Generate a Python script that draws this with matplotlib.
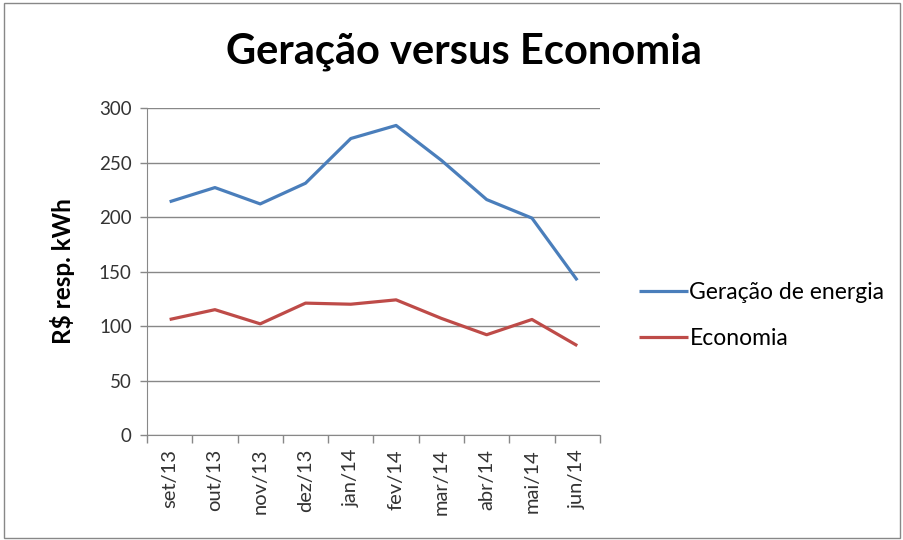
import matplotlib
matplotlib.use("Agg")
import matplotlib.pyplot as plt
from matplotlib.patches import Rectangle

categories = ["set/13", "out/13", "nov/13", "dez/13", "jan/14", "fev/14",
              "mar/14", "abr/14", "mai/14", "jun/14"]
geracao = [214, 227, 212, 231, 272, 284, 252, 216, 199, 142]
economia = [106, 115, 102, 121, 120, 124, 107, 92, 106, 82]
yticks = [0, 50, 100, 150, 200, 250, 300]

plt.rcParams['font.family'] = ['Lato', 'DejaVu Sans']

fig = plt.figure(figsize=(9.04, 5.4), dpi=100)
fig.patches.append(Rectangle((0.004, 0.004), 0.992, 0.99, transform=fig.transFigure,
                             fill=False, edgecolor="#888888", linewidth=1))
ax = fig.add_axes([0.1626, 0.1944, 0.501, 0.6056])

x = list(range(len(categories)))
l1, = ax.plot(x, geracao, color="#4A7EBB", linewidth=2.3, solid_capstyle="butt")
l2, = ax.plot(x, economia, color="#BE4B48", linewidth=2.3, solid_capstyle="butt")

ax.set_xlim(-0.5, len(categories) - 0.5)
ax.set_ylim(0, 300)
ax.set_yticks(yticks)
ax.set_yticklabels([str(v) for v in yticks], fontsize=13.5, color="#333333")
ax.set_xticks(x)
ax.set_xticklabels(categories, rotation=90, fontsize=14.5, color="#333333")
ax.tick_params(axis="x", length=0, pad=10)
ax.set_xticks([i - 0.5 for i in range(len(categories) + 1)], minor=True)
ax.tick_params(axis="x", which="minor", length=6, color="#888888", width=1)
ax.tick_params(axis="y", length=5, color="#888888", width=1, pad=6)
ax.grid(axis="y", color="#888888", linewidth=1)
ax.set_axisbelow(True)
for s in ["top", "right"]:
    ax.spines[s].set_visible(False)
for s in ["left", "bottom"]:
    ax.spines[s].set_color("#888888")

ax.set_ylabel("R$ resp. kWh", fontsize=17.5, fontweight="bold", labelpad=17)
fig.text(0.513, 0.904, "Geração versus Economia", fontsize=30, fontweight="bold",
         ha="center", va="center")

fig.legend([l1, l2], ["Geração de energia", "Economia"], loc="upper left",
           bbox_to_anchor=(0.684, 0.516), frameon=False, fontsize=16.5,
           handlelength=2.15, handletextpad=0.05, labelspacing=1.1)

fig.savefig("out.png", dpi=100)
